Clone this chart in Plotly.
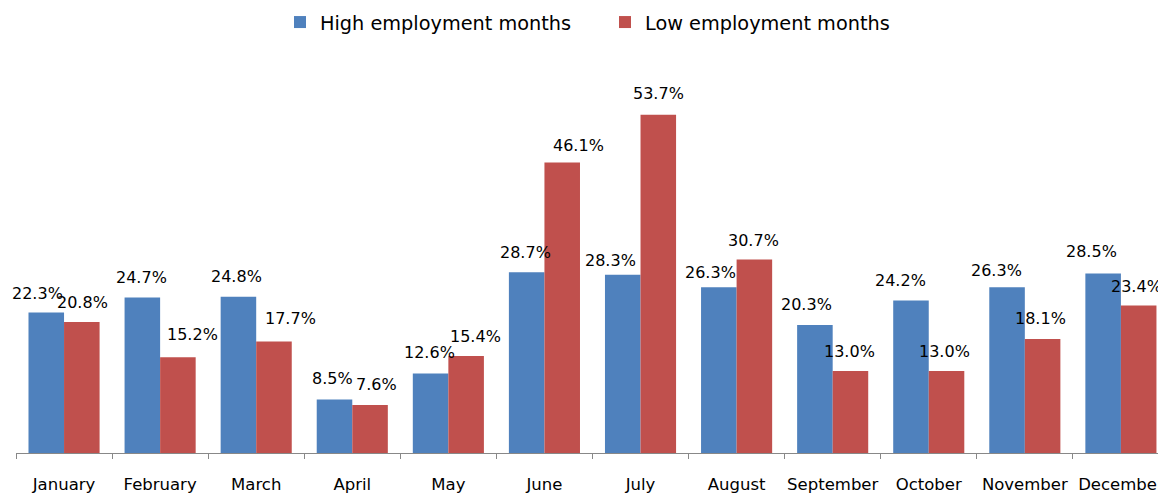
import plotly.graph_objects as go

months = ["January", "February", "March", "April", "May", "June", "July",
          "August", "September", "October", "November", "December"]
high_employment = [22.3, 24.7, 24.8, 8.5, 12.6, 28.7, 28.3, 26.3, 20.3, 24.2, 26.3, 28.5]
low_employment = [20.8, 15.2, 17.7, 7.6, 15.4, 46.1, 53.7, 30.7, 13.0, 13.0, 18.1, 23.4]
series_names = ["High employment months", "Low employment months"]

# label placement nudges in pixels (dx, height above bar top), as placed in the source
label_nudge_high = [(-9, 19), (-1, 19.6), (-1.5, 20), (-2, 21), (-1.5, 21), (-1, 19.5),
                    (-12, 14), (-8.5, 15), (-8.5, 21), (-10, 20.5), (-11, 17), (-12, 22)]
label_nudge_low = [(0.5, 19), (15, 22.5), (17, 22.5), (6, 21), (9, 19.5), (16, 17),
                   (0, 20.7), (-1, 19.5), (-1, 19.7), (-2, 20), (-2, 20.5), (-2.5, 19.5)]

BLUE = "#4F81BD"
RED = "#C0504D"
FONT = "DejaVu Sans, Verdana, sans-serif"
BARGAP = 0.26

fig = go.Figure()
fig.add_trace(go.Bar(x=months, y=high_employment, name=series_names[0],
                     marker=dict(color=BLUE, line=dict(width=0))))
fig.add_trace(go.Bar(x=months, y=low_employment, name=series_names[1],
                     marker=dict(color=RED, line=dict(width=0))))

# data labels above each bar
half = (1 - BARGAP) / 4
annotations = []
for values, nudges, off in ((high_employment, label_nudge_high, -half),
                            (low_employment, label_nudge_low, half)):
    for i, (val, (dx, dy)) in enumerate(zip(values, nudges)):
        annotations.append(dict(
            x=i + off, y=val, xref="x", yref="y",
            text=f"{val:.1f}%", showarrow=False,
            yanchor="middle", yshift=dy, xshift=dx,
            font=dict(family=FONT, size=16, color="#000000"),
        ))

fig.update_layout(
    width=1158, height=493,
    margin=dict(l=16, r=0, t=60, b=40, autoexpand=False),
    paper_bgcolor="white", plot_bgcolor="white",
    barmode="group", bargap=BARGAP, bargroupgap=0,
    showlegend=True,
    legend=dict(orientation="h", xref="container", yref="container",
                x=280 / 1158, xanchor="left", y=1 - 3 / 493, yanchor="top",
                font=dict(family=FONT, size=19.3, color="#000000"),
                entrywidth=280, entrywidthmode="pixels",
                bgcolor="rgba(0,0,0,0)"),
    annotations=annotations,
    xaxis=dict(type="category", range=[-0.5, 11.386], automargin=False,
               showline=True, linecolor="#888888", linewidth=1,
               ticks="outside", tickson="boundaries", ticklen=5,
               tickcolor="#888888", showgrid=False, tickangle=0,
               tickfont=dict(family=FONT, size=16.5, color="#000000"),
               ticklabelstandoff=16),
    yaxis=dict(range=[0, 393 / 6.3], visible=False, showgrid=False,
               zeroline=False, automargin=False),
)

fig.write_html("out.html")
